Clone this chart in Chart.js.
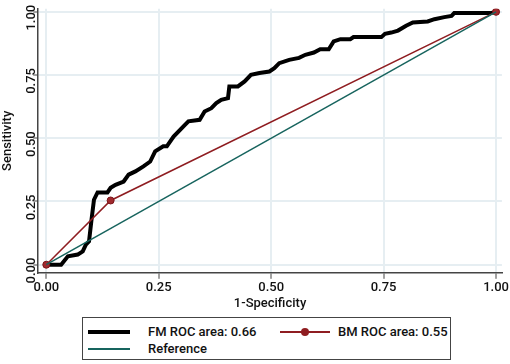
<!DOCTYPE html>
<html>
<head>
<meta charset="utf-8">
<script src="https://cdn.jsdelivr.net/npm/chart.js@4"></script>
<style>
  body { margin: 0; background: #fff; font-family: Roboto, sans-serif; }
  #wrap { position: relative; width: 510px; height: 312px; }
  #legend { position: absolute; left: 82px; top: 317px; width: 369px; height: 43px; border: 1px solid #444; box-sizing: border-box; font-size: 13px; font-weight: 500; color: #111; }
  .item { position: absolute; height: 16px; line-height: 16px; }
  .sw { position: absolute; top: 7px; }
</style>
</head>
<body>
<div id="wrap"><canvas id="roc"></canvas></div>
<div id="legend">
  <div class="item" style="left:5px;top:6px;"><span class="sw" style="left:0;width:42px;height:4px;top:6px;background:#000;"></span><span style="margin-left:60px">FM ROC area: 0.66</span></div>
  <div class="item" style="left:197px;top:6px;"><span class="sw" style="left:0;width:50px;height:1.5px;background:#8f1d21;"></span><span class="sw" style="left:21px;top:4px;width:8px;height:8px;border-radius:50%;background:#8f1d21;"></span><span style="margin-left:58px">BM ROC area: 0.55</span></div>
  <div class="item" style="left:5px;top:23px;"><span class="sw" style="left:0;width:42px;height:1.5px;background:#17645e;"></span><span style="margin-left:60px">Reference</span></div>
</div>
<script>
// FM ROC curve (1-specificity, sensitivity)
const fmX = [0, 0.033, 0.048, 0.07, 0.081, 0.088, 0.095, 0.1, 0.106, 0.114, 0.136, 0.143, 0.154, 0.172, 0.183, 0.198, 0.216, 0.231, 0.242, 0.26, 0.268, 0.283, 0.305, 0.316, 0.341, 0.352, 0.367, 0.378, 0.389, 0.404, 0.407, 0.426, 0.441, 0.455, 0.474, 0.496, 0.507, 0.518, 0.54, 0.562, 0.576, 0.595, 0.609, 0.628, 0.639, 0.654, 0.676, 0.683, 0.745, 0.753, 0.767, 0.782, 0.8, 0.815, 0.848, 0.863, 0.885, 0.901, 0.907, 0.987, 1];
const fmY = [0, 0, 0.033, 0.04, 0.053, 0.079, 0.092, 0.17, 0.257, 0.286, 0.286, 0.304, 0.316, 0.329, 0.356, 0.369, 0.389, 0.408, 0.448, 0.468, 0.468, 0.507, 0.547, 0.567, 0.573, 0.606, 0.619, 0.639, 0.652, 0.659, 0.705, 0.705, 0.725, 0.751, 0.758, 0.764, 0.777, 0.797, 0.81, 0.818, 0.83, 0.839, 0.852, 0.852, 0.883, 0.892, 0.892, 0.9, 0.9, 0.913, 0.918, 0.926, 0.945, 0.958, 0.962, 0.971, 0.979, 0.984, 0.995, 0.995, 1];
// BM ROC curve
const bmX = [0, 0.143, 1];
const bmY = [0, 0.254, 1];
// Reference diagonal
const refX = [0, 1];
const refY = [0, 1];
const tickVals = [0, 0.25, 0.5, 0.75, 1];

const pts = (xs, ys) => xs.map((x, i) => ({ x: x, y: ys[i] }));
const font = { family: 'Roboto, sans-serif', size: 13, weight: '500' };
const titleFont = { family: 'Roboto, sans-serif', size: 13, weight: '500' };

new Chart(document.getElementById('roc'), {
  type: 'scatter',
  data: {
    datasets: [
      { label: 'Reference', data: pts(refX, refY), showLine: true, borderColor: '#17645e', borderWidth: 1.5, pointRadius: 0 },
      { label: 'BM ROC area: 0.55', data: pts(bmX, bmY), showLine: true, borderColor: '#8f1d21', borderWidth: 1.5, pointRadius: 3.5, pointBackgroundColor: '#a02a2e', pointBorderColor: '#7a1418', pointBorderWidth: 1 },
      { label: 'FM ROC area: 0.66', data: pts(fmX, fmY), showLine: true, borderColor: '#000', borderWidth: 4, pointRadius: 0, borderJoinStyle: 'miter', clip: 4 }
    ]
  },
  options: {
    responsive: true,
    maintainAspectRatio: false,
    animation: false,
    layout: { padding: { top: 0, right: 0, left: 0 } },
    plugins: { legend: { display: false }, tooltip: { enabled: false } },
    scales: {
      x: {
        type: 'linear', min: -0.018, max: 1.013,
        afterBuildTicks: s => { s.ticks = tickVals.map(v => ({ value: v })); },
        ticks: { color: '#111', font: font, callback: v => v.toFixed(2), maxRotation: 0, padding: 1 },
        grid: { color: '#e6eef2', lineWidth: 2, tickColor: '#444', tickLength: 6, tickWidth: 1 },
        border: { color: '#444', width: 1.5 },
        title: { display: true, text: '1-Specificity', color: '#111', font: titleFont, padding: 0 }
      },
      y: {
        type: 'linear', min: -0.032, max: 1.012,
        afterBuildTicks: s => { s.ticks = tickVals.map(v => ({ value: v })); },
        ticks: { color: '#111', font: font, callback: v => v.toFixed(2), minRotation: 90, maxRotation: 90, padding: 1, labelOffset: -7 },
        grid: { color: '#e6eef2', lineWidth: 2, tickColor: '#444', tickLength: 5, tickWidth: 1 },
        border: { color: '#444', width: 1.5 },
        title: { display: true, text: 'Sensitivity', color: '#111', font: titleFont, padding: 0 }
      }
    }
  }
});
</script>
</body>
</html>
